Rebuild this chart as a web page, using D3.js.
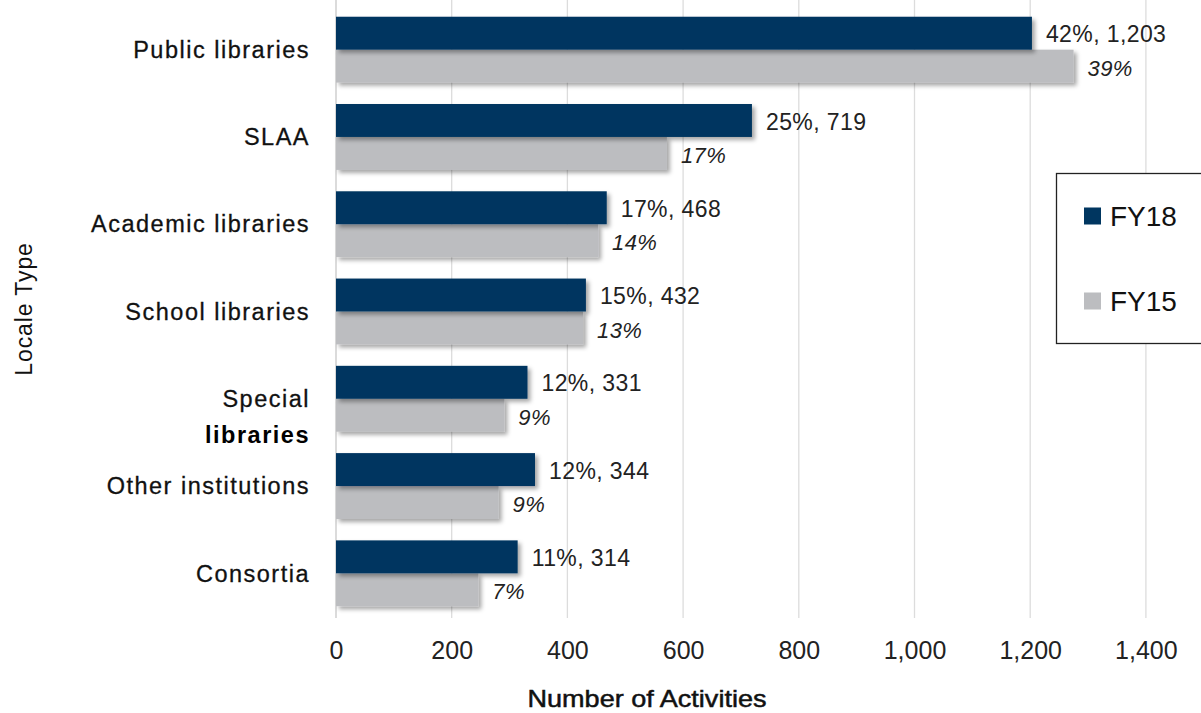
<!DOCTYPE html>
<html>
<head>
<meta charset="utf-8">
<script src="https://cdn.jsdelivr.net/npm/d3@7"></script>
<style>
  body { margin: 0; background: #fff; }
  svg { display: block; }
</style>
</head>
<body>
<div id="chart"></div>
<script>
// Locale types, top to bottom
const categories = ["Public libraries", "SLAA", "Academic libraries", "School libraries",
                    "Special libraries", "Other institutions", "Consortia"];
const fy18Values = [1203, 719, 468, 432, 331, 344, 314];
const fy18Pct = ["42%", "25%", "17%", "15%", "12%", "12%", "11%"];
const fy15Values = [1275, 572, 453, 427, 291, 281, 246];
const fy15Pct = ["39%", "17%", "14%", "13%", "9%", "9%", "7%"];
const xTicks = [0, 200, 400, 600, 800, 1000, 1200, 1400];
const seriesNames = ["FY18", "FY15"];

const width = 1201, height = 713;
const margin = { top: 6, left: 336, right: 55, bottom: 95 };
const colors = { FY18: "#003660", FY15: "#bcbdc0" };
const sans = "'Liberation Sans', Arial, sans-serif";

const svg = d3.select("#chart").append("svg")
    .attr("width", width)
    .attr("height", height);

// soft drop shadow under the bars
const defs = svg.append("defs");
const filt = defs.append("filter").attr("id", "shadow")
    .attr("x", "-5%").attr("y", "-20%").attr("width", "115%").attr("height", "160%");
filt.append("feDropShadow")
    .attr("dx", 3).attr("dy", 3).attr("stdDeviation", 2.2)
    .attr("flood-color", "#000").attr("flood-opacity", 0.35);

const x = d3.scaleLinear()
    .domain([0, 1400])
    .range([margin.left, margin.left + 1400 * 0.5785]);

const y = d3.scaleBand()
    .domain(categories)
    .range([margin.top, height - margin.bottom - 1])
    .paddingInner(0.245)
    .paddingOuter(0.123);

const inner = d3.scaleBand()
    .domain(seriesNames)
    .range([0, y.bandwidth()]);

// gridlines
svg.append("g")
    .selectAll("line")
    .data(xTicks)
    .join("line")
    .attr("x1", d => x(d)).attr("x2", d => x(d))
    .attr("y1", 0).attr("y2", 618)
    .attr("stroke", d => d === 0 ? "#c8c8c8" : "#dcdcdc")
    .attr("stroke-width", 1.3);

// x axis tick labels
const xAxis = d3.axisBottom(x).tickValues(xTicks).tickSize(0).tickPadding(0)
    .tickFormat(d3.format(","));
const gx = svg.append("g").attr("transform", "translate(0,641)").call(xAxis);
gx.select(".domain").remove();
gx.selectAll("text")
    .attr("font-family", sans)
    .attr("font-size", 25)
    .attr("fill", "#222");

// bars
const rows = categories.map((c, i) => ({
    cat: c,
    vals: [
        { s: "FY18", v: fy18Values[i], label: fy18Pct[i] + ", " + d3.format(",")(fy18Values[i]) },
        { s: "FY15", v: fy15Values[i], label: fy15Pct[i] }
    ]
}));

const groups = svg.append("g")
    .selectAll("g")
    .data(rows)
    .join("g")
    .attr("transform", d => `translate(0,${y(d.cat)})`);

// gray (FY15) drawn first so the navy bar's shadow falls over it
groups.selectAll("rect")
    .data(d => d.vals.slice().reverse())
    .join("rect")
    .attr("x", x(0))
    .attr("y", d => inner(d.s))
    .attr("width", d => x(d.v) - x(0))
    .attr("height", inner.bandwidth())
    .attr("fill", d => colors[d.s])
    .attr("filter", "url(#shadow)");

groups.selectAll("text.lbl")
    .data(d => d.vals)
    .join("text")
    .attr("class", "lbl")
    .attr("x", d => x(d.v) + 14)
    .attr("y", d => inner(d.s) + inner.bandwidth() / 2 + (d.s === "FY18" ? 1 : 2))
    .attr("dy", "0.35em")
    .attr("font-family", sans)
    .attr("font-size", d => d.s === "FY18" ? 23 : 22)
    .attr("font-style", d => d.s === "FY15" ? "italic" : "normal")
    .attr("letter-spacing", 0.4)
    .attr("fill", "#222")
    .text(d => d.label);

// category labels
const catG = svg.append("g")
    .attr("font-family", sans)
    .attr("font-size", 23.5)
    .attr("letter-spacing", 1.5)
    .attr("text-anchor", "end");
categories.forEach(c => {
    const cy = y(c) + y.bandwidth() / 2;
    if (c === "Special libraries") {
        catG.append("text")
            .attr("x", 310).attr("y", cy).attr("dy", "0.35em")
            .attr("fill", "#111").attr("stroke", "#111").attr("stroke-width", 0.3)
            .text("Special");
        catG.append("text")
            .attr("x", 310).attr("y", cy + 36).attr("dy", "0.35em")
            .attr("font-weight", "bold").attr("fill", "#000")
            .text("libraries");
    } else {
        catG.append("text")
            .attr("x", 310).attr("y", cy).attr("dy", "0.35em")
            .attr("fill", "#111").attr("stroke", "#111").attr("stroke-width", 0.3)
            .text(c);
    }
});

// axis titles
svg.append("text")
    .attr("x", 24).attr("y", 309)
    .attr("transform", "rotate(-90,24,309)")
    .attr("text-anchor", "middle").attr("dy", "0.35em")
    .attr("font-family", sans)
    .attr("font-size", 23).attr("letter-spacing", 0.9).attr("fill", "#111")
    .text("Locale Type");

svg.append("text")
    .attr("x", 647).attr("y", 699)
    .attr("text-anchor", "middle").attr("dy", "0.35em")
    .attr("font-family", sans)
    .attr("font-size", 24).attr("fill", "#111")
    .attr("stroke", "#111").attr("stroke-width", 0.5)
    .attr("textLength", 239).attr("lengthAdjust", "spacingAndGlyphs")
    .text("Number of Activities");

// legend
const legend = svg.append("g").attr("transform", "translate(1056,173)");
legend.append("rect")
    .attr("x", 0.5).attr("y", 0.5)
    .attr("width", 160).attr("height", 170)
    .attr("fill", "#fff").attr("stroke", "#222").attr("stroke-width", 1.3);
seriesNames.forEach((s, i) => {
    const ly = 43 + i * 85;
    legend.append("rect")
        .attr("x", 28).attr("y", ly - 8.5)
        .attr("width", 17).attr("height", 17)
        .attr("fill", colors[s]);
    legend.append("text")
        .attr("x", 54).attr("y", ly).attr("dy", "0.36em")
        .attr("font-family", sans)
        .attr("font-size", 28).attr("fill", "#111")
        .text(s);
});
</script>
</body>
</html>
